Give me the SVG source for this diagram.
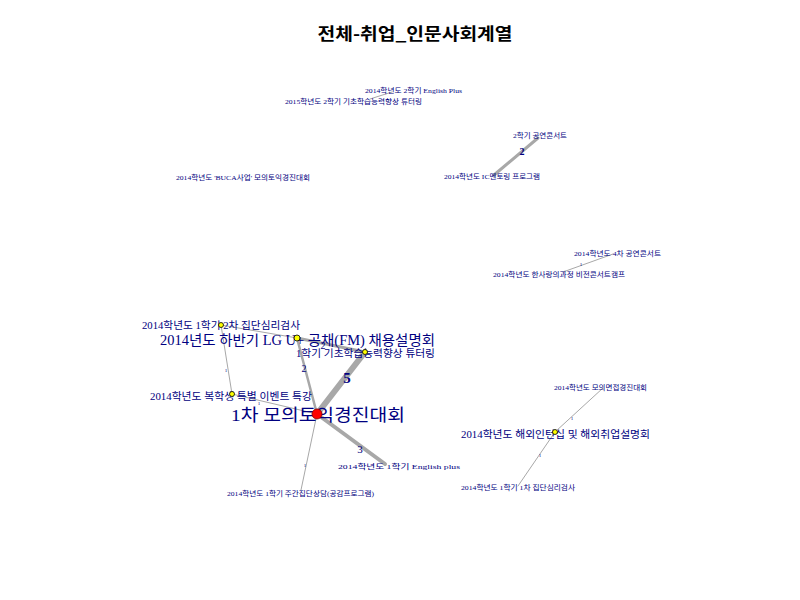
<svg xmlns="http://www.w3.org/2000/svg" width="800" height="600" viewBox="0 0 800 600">
<style>
.t{font-family:"Liberation Serif","Noto Sans CJK KR",serif;fill:#000080}
.s{font-size:7px}
.m{font-size:10px}
.e{stroke:#a8a8a8;fill:none;stroke-linecap:round}
.w{fill:#000080;font-family:"Liberation Serif","Noto Sans CJK KR",serif;text-anchor:middle}
.n{fill:#ffff00;stroke:#000;stroke-width:0.8}
</style>
<rect width="800" height="600" fill="#fff"/>
<text x="415" y="40" text-anchor="middle" font-family="'Noto Sans CJK KR',sans-serif" font-weight="bold" font-size="17" textLength="195" lengthAdjust="spacingAndGlyphs" fill="#000">전체-취업_인문사회계열</text>
<g id="edges">
<line class="e" x1="370" y1="99" x2="392" y2="92" stroke-width="1"/>
<line class="e" x1="538" y1="138" x2="494" y2="175" stroke-width="3"/>
<text class="w" x="522" y="155" font-size="10" font-weight="bold">2</text>
<line class="e" x1="613" y1="254" x2="563" y2="272" stroke-width="1"/>
<text class="w" x="581" y="266" font-size="5">1</text>
<line class="e" x1="317" y1="414" x2="365" y2="352" stroke-width="6"/>
<text class="w" x="347" y="383" font-size="15" font-weight="bold">5</text>
<line class="e" x1="317" y1="414" x2="297" y2="338" stroke-width="2.5"/>
<text class="w" x="304" y="372" font-size="10">2</text>
<line class="e" x1="297" y1="338" x2="365" y2="352" stroke-width="3"/>
<text class="w" x="323" y="349" font-size="10">2</text>
<line class="e" x1="317" y1="414" x2="385" y2="464" stroke-width="4"/>
<text class="w" x="360" y="453" font-size="11">3</text>
<line class="e" x1="317" y1="414" x2="301" y2="490" stroke-width="1"/>
<text class="w" x="305" y="467" font-size="5">1</text>
<line class="e" x1="317" y1="414" x2="232" y2="394" stroke-width="1"/>
<text class="w" x="259" y="405" font-size="5">1</text>
<line class="e" x1="232" y1="394" x2="221" y2="325" stroke-width="1"/>
<text class="w" x="226" y="372" font-size="5">1</text>
<line class="e" x1="221" y1="325" x2="297" y2="338" stroke-width="1"/>
<line class="e" x1="555" y1="432" x2="603" y2="388" stroke-width="1"/>
<text class="w" x="572" y="420" font-size="5">1</text>
<line class="e" x1="555" y1="432" x2="518" y2="486" stroke-width="1"/>
<text class="w" x="540" y="457" font-size="5">1</text>
</g>
<g id="n1"><text class="t s" x="365" y="93" textLength="97" lengthAdjust="spacingAndGlyphs">2014학년도 2학기 English Plus</text></g>
<g id="n2"><text class="t s" x="285" y="104" textLength="137" lengthAdjust="spacingAndGlyphs">2015학년도 2학기 기초학습능력향상 튜터링</text></g>
<g id="n3"><text class="t s" x="513" y="138" textLength="54" lengthAdjust="spacingAndGlyphs">2학기 공연콘서트</text></g>
<g id="n4"><text class="t s" x="444" y="179" textLength="96" lengthAdjust="spacingAndGlyphs">2014학년도 IC멘토링 프로그램</text></g>
<g id="n5"><text class="t s" x="176" y="180" textLength="134" lengthAdjust="spacingAndGlyphs">2014학년도 'BUCA사업' 모의토익경진대회</text></g>
<g id="n6"><text class="t s" x="574" y="256" textLength="87" lengthAdjust="spacingAndGlyphs">2014학년도 4차 공연콘서트</text></g>
<g id="n7"><text class="t s" x="493" y="277" textLength="132" lengthAdjust="spacingAndGlyphs">2014학년도 한사랑의과정 비전콘서트캠프</text></g>
<g id="n8"><text class="t m" x="142" y="329" textLength="158" lengthAdjust="spacingAndGlyphs">2014학년도 1학기 2차 집단심리검사</text><circle class="n" cx="221" cy="325" r="2.5"/></g>
<g id="n9"><text class="t" font-size="14" x="160" y="345" textLength="275" lengthAdjust="spacingAndGlyphs">2014년도 하반기 LG U+ 공채(FM) 채용설명회</text><circle class="n" cx="297" cy="338" r="3"/></g>
<g id="n10"><text class="t m" x="296" y="357" textLength="139" lengthAdjust="spacingAndGlyphs">1학기 기초학습능력향상 튜터링</text><circle class="n" cx="365" cy="352" r="2.5"/></g>
<g id="n11"><text class="t m" x="150" y="400" textLength="162" lengthAdjust="spacingAndGlyphs">2014학년도 복학생 특별 이벤트 특강</text><circle class="n" cx="232" cy="394" r="2.5"/></g>
<g id="n12"><text class="t" font-size="17" x="231" y="421" textLength="174" lengthAdjust="spacingAndGlyphs">1차 모의토익경진대회</text><circle cx="317" cy="414" r="5" fill="#ff0000" stroke="#800000" stroke-width="0.8"/></g>
<g id="n13"><text class="t s" x="338" y="469" textLength="122" lengthAdjust="spacingAndGlyphs">2014학년도 1학기 English plus</text></g>
<g id="n14"><text class="t s" x="227" y="496" textLength="147" lengthAdjust="spacingAndGlyphs">2014학년도 1학기 주간집단상담(공감프로그램)</text></g>
<g id="n15"><text class="t s" x="554" y="390" textLength="93" lengthAdjust="spacingAndGlyphs">2014학년도 모의면접경진대회</text></g>
<g id="n16"><text class="t m" x="461" y="438" textLength="189" lengthAdjust="spacingAndGlyphs">2014학년도 해외인턴십 및 해외취업설명회</text><circle class="n" cx="555" cy="432" r="2.5"/></g>
<g id="n17"><text class="t s" x="461" y="490" textLength="114" lengthAdjust="spacingAndGlyphs">2014학년도 1학기 1차 집단심리검사</text></g>
</svg>
